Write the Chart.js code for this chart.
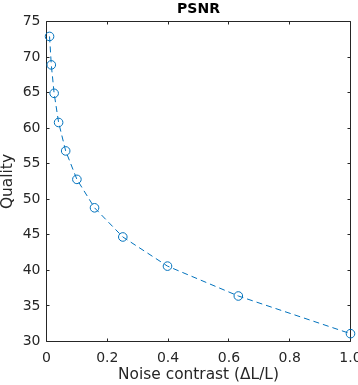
<!DOCTYPE html>
<html>
<head>
<meta charset="utf-8">
<script src="https://cdn.jsdelivr.net/npm/chart.js@4"></script>
<style>
  html, body { margin: 0; padding: 0; background: #fff; }
  #psnrChart { display: block; }
</style>
</head>
<body>
<canvas id="psnrChart" width="358" height="385"></canvas>
<script>
// data
var noiseContrast = [0.01, 0.0158, 0.0251, 0.0398, 0.0631, 0.1, 0.158, 0.251, 0.398, 0.631, 1];
var quality = [72.9, 68.9, 64.9, 60.8, 56.8, 52.8, 48.8, 44.7, 40.6, 36.4, 31.1];

// tick labels
var xTicks = [0, 0.2, 0.4, 0.6, 0.8, 1];
var yTicks = [30, 35, 40, 45, 50, 55, 60, 65, 70, 75];

var axisColor = "#262626";
var lineColor = "#0072BD";
var fontName = "'DejaVu Sans', sans-serif";

var points = noiseContrast.map(function (x, i) {
    return { x: x, y: quality[i] };
});

// MATLAB style box with inward ticks on all four sides
var boxPlugin = {
    id: "matlabBox",
    afterLayout: function (chart) {
        // center the title over the axes, not the whole canvas
        var area = chart.chartArea;
        if (chart.titleBlock) {
            chart.titleBlock.left = area.left;
            chart.titleBlock.right = area.right;
            chart.titleBlock.width = area.right - area.left;
        }
    },
    beforeDatasetsDraw: function (chart) {
        var ctx = chart.ctx;
        var a = chart.chartArea;
        var xs = chart.scales.x;
        var ys = chart.scales.y;
        var len = 3;
        ctx.save();
        ctx.strokeStyle = axisColor;
        ctx.lineWidth = 1;
        ctx.beginPath();
        ctx.rect(a.left, a.top, a.right - a.left, a.bottom - a.top);
        xs.ticks.forEach(function (t) {
            var px = Math.round(xs.getPixelForValue(t.value) - 0.5) + 0.5;
            ctx.moveTo(px, a.bottom);
            ctx.lineTo(px, a.bottom - len);
            ctx.moveTo(px, a.top);
            ctx.lineTo(px, a.top + len);
        });
        ys.ticks.forEach(function (t) {
            var py = Math.round(ys.getPixelForValue(t.value) - 0.5) + 0.5;
            ctx.moveTo(a.left, py);
            ctx.lineTo(a.left + len, py);
            ctx.moveTo(a.right, py);
            ctx.lineTo(a.right - len, py);
        });
        ctx.stroke();
        ctx.restore();
    }
};

new Chart("psnrChart", {
    type: "line",
    data: {
        datasets: [{
            label: "PSNR",
            data: points,
            borderColor: lineColor,
            backgroundColor: "rgba(0,0,0,0)",
            borderWidth: 1,
            borderDash: [6, 4],
            fill: false,
            tension: 0,
            pointStyle: "circle",
            pointRadius: 4.3,
            pointBorderWidth: 1,
            pointBorderColor: lineColor,
            pointBackgroundColor: "rgba(0,0,0,0)",
            pointHoverRadius: 4.3,
            clip: false
        }]
    },
    options: {
        responsive: false,
        devicePixelRatio: 1,
        animation: false,
        events: [],
        layout: {
            padding: { left: 0, right: 7.5, top: 0, bottom: 0 }
        },
        plugins: {
            legend: { display: false },
            tooltip: { enabled: false },
            title: {
                display: true,
                text: "PSNR",
                color: "#000",
                font: { family: fontName, size: 14, weight: "bold", lineHeight: 1.2 },
                padding: { top: 1.1, bottom: 3.6 }
            }
        },
        scales: {
            x: {
                type: "linear",
                min: 0,
                max: 1,
                afterBuildTicks: function (scale) {
                    scale.ticks = xTicks.map(function (v) { return { value: v }; });
                },
                afterFit: function (scale) {
                    scale.height = 43.5;
                    scale.paddingLeft = 0;
                    scale.paddingRight = 0;
                },
                grid: { display: false, drawTicks: false },
                border: { display: false },
                ticks: {
                    color: axisColor,
                    font: { family: fontName, size: 14 },
                    padding: 8,
                    maxRotation: 0,
                    autoSkip: false
                },
                title: {
                    display: true,
                    text: "Noise contrast (\u0394L/L)",
                    color: axisColor,
                    font: { family: fontName, size: 15.4, lineHeight: 1.2 },
                    padding: { top: 0, bottom: 0.8 }
                }
            },
            y: {
                type: "linear",
                min: 30,
                max: 75,
                afterBuildTicks: function (scale) {
                    scale.ticks = yTicks.map(function (v) { return { value: v }; });
                },
                afterFit: function (scale) {
                    scale.width = 46.5;
                    scale.paddingTop = 0;
                    scale.paddingBottom = 0;
                },
                grid: { display: false, drawTicks: false },
                border: { display: false },
                ticks: {
                    color: axisColor,
                    font: { family: fontName, size: 14 },
                    padding: 6,
                    autoSkip: false
                },
                title: {
                    display: true,
                    text: "Quality",
                    color: axisColor,
                    font: { family: fontName, size: 15.4, lineHeight: 1.05 },
                    padding: { top: 0, bottom: 0 }
                }
            }
        }
    },
    plugins: [boxPlugin]
});
</script>
</body>
</html>
